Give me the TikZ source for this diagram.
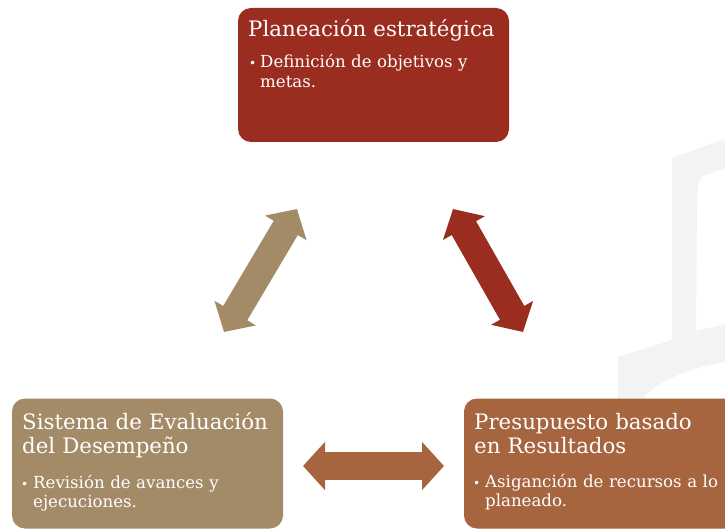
\documentclass[tikz,border=0pt]{standalone}
\usepackage{fontspec}
\setmainfont{DejaVu Serif}
\usetikzlibrary{arrows.meta}

\definecolor{planred}{HTML}{9B2D20}
\definecolor{evaltan}{HTML}{A38B68}
\definecolor{presbrown}{HTML}{A6643F}
\definecolor{markgray}{HTML}{F3F3F3}

\tikzset{
  box/.style={rounded corners=13pt, inner sep=0pt},
  title/.style={anchor=base west, inner sep=0pt, text=white, text width=320pt, align=left,
    font=\fontsize{21.3}{24}\selectfont},
  item/.style={anchor=base west, inner sep=0pt, text=white, text width=320pt, align=left,
    font=\fontsize{16.6}{19.5}\selectfont},
  dot/.style={anchor=base west, inner sep=0pt, text=white, font=\fontsize{12}{19}\selectfont},
  link/.style={line width=28pt, {Triangle[length=22pt,width=47pt]}-{Triangle[length=22pt,width=47pt]}}
}

\begin{document}
\begin{tikzpicture}[x=1pt,y=-1pt]
\useasboundingbox (0,0) rectangle (725,529);
\clip (0,0) rectangle (725,529);

% faint mark in the back
\fill[markgray] (672,158) -- (725,139) -- (725,168) -- (703,176) .. controls (698,182) .. (697,200)
  -- (696,331) -- (725,324) -- (725,362) .. controls (680,370) and (650,385) .. (638,405)
  -- (618,405) -- (618,357) -- (672,340) -- cycle;

% the three boxes
\node[box, fill=planred, minimum width=271pt, minimum height=134pt] (Plan) at (373.5,75) {};
\node[box, fill=evaltan, minimum width=271pt, minimum height=130pt] (Eval) at (147.5,463.5) {};
\node[box, fill=presbrown, minimum width=290pt, minimum height=130pt] (Pres) at (609,463.5) {};

% texts
\node[title] (PlanTitle) at (248,37) {Planeación estratégica};
\node[dot] (PlanDot) at (249,68) {•};
\node[item] (PlanItem) at (260,68) {Definición de objetivos y\\metas.};

\node[title] (EvalTitle) at (22,429) {Sistema de Evaluación\\del Desempeño};
\node[dot] (EvalDot) at (21,488) {•};
\node[item] (EvalItem) at (33,488) {Revisión de avances y\\ejecuciones.};

\node[title] (PresTitle) at (474,429) {Presupuesto basado\\en Resultados};
\node[dot] (PresDot) at (473,487) {•};
\node[item] (PresItem) at (485,487) {Asiganción de recursos a lo\\planeado.};

% arrow ends
\coordinate (EvalUp) at (224,332); \coordinate (PlanLeft) at (297,209);
\coordinate (PlanRight) at (453,209); \coordinate (PresUp) at (523,332);
\coordinate (EvalSide) at (303,466); \coordinate (PresSide) at (444,466);

\draw[link, evaltan] (EvalUp) -- (PlanLeft);
\draw[link, planred] (PlanRight) -- (PresUp);
\draw[link, presbrown] (EvalSide) -- (PresSide);
\end{tikzpicture}
\end{document}
